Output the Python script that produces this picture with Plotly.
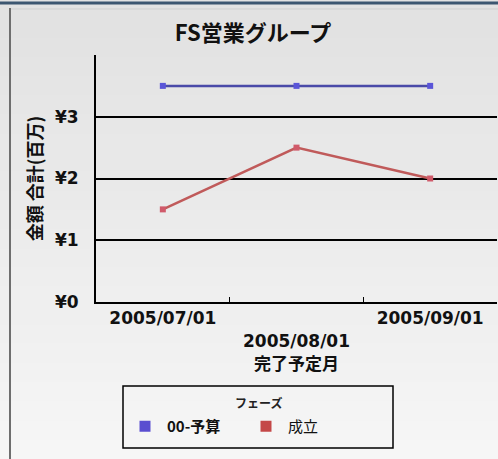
import plotly.graph_objects as go

# ---- data ----
categories = ["2005/07/01", "2005/08/01", "2005/09/01"]
tick_labels = ["2005/07/01", "<br>2005/08/01", "2005/09/01"]
yosan = [3.5, 3.5, 3.5]        # 00-予算
seiritsu = [1.5, 2.5, 2.0]     # 成立
y_ticks = [0, 1, 2, 3]
y_tick_labels = ["¥0", "¥1", "¥2", "¥3"]
series_names = ["<b>00-予算</b>", "成立"]

BLUE_LINE = "#4a4aa8"
BLUE_MARK = "#5a55d8"
RED_LINE = "#c05a5a"
RED_MARK = "#d05a6a"
FONT = "Noto Sans CJK JP"
NUMFONT = "DejaVu Sans"

W, H = 498, 459
L, R, T, B = 96, 1, 55, 157
PW, PH = W - L - R, H - T - B


def px(x):
    return (x - L) / PW


def py(y):
    return (H - B - y) / PH


fig = go.Figure()
fig.add_trace(go.Scatter(x=categories, y=yosan, mode="lines+markers",
                         line=dict(color=BLUE_LINE, width=2.5),
                         marker=dict(symbol="square", size=6, color=BLUE_MARK),
                         showlegend=False))
fig.add_trace(go.Scatter(x=categories, y=seiritsu, mode="lines+markers",
                         line=dict(color=RED_LINE, width=2.5),
                         marker=dict(symbol="square", size=6, color=RED_MARK),
                         showlegend=False))
# legend entries (square swatches)
fig.add_trace(go.Scatter(x=[None], y=[None], mode="markers", name=series_names[0],
                         marker=dict(symbol="square", size=11, color="#5a4ed0")))
fig.add_trace(go.Scatter(x=[None], y=[None], mode="markers", name=series_names[1],
                         marker=dict(symbol="square", size=11, color="#c44848")))

# background gradient bands
shapes = []
n = 24
for i in range(n):
    t = i / (n - 1)
    c = int(0xe2 + (0xf6 - 0xe2) * t)
    y1 = py(0) - i * (py(0) - py(H)) / n
    y0 = py(0) - (i + 1) * (py(0) - py(H)) / n
    shapes.append(dict(type="rect", xref="paper", yref="paper",
                       x0=px(0), x1=px(W), y0=y0 - 0.002, y1=y1 + 0.002,
                       fillcolor=f"rgb({c},{c},{c})", line=dict(width=0), layer="below"))
# frame lines
shapes.append(dict(type="line", xref="paper", yref="paper", x0=px(0), x1=px(W),
                   y0=py(3), y1=py(3), line=dict(color="#3c5670", width=3)))
shapes.append(dict(type="line", xref="paper", yref="paper", x0=px(10), x1=px(W),
                   y0=py(9), y1=py(9), line=dict(color="#cfcfcf", width=1)))
shapes.append(dict(type="line", xref="paper", yref="paper", x0=px(10), x1=px(10),
                   y0=py(H), y1=py(8), line=dict(color="#6e6e6e", width=2)))
# legend box
shapes.append(dict(type="rect", xref="paper", yref="paper", x0=px(123), x1=px(393),
                   y0=py(448), y1=py(386), line=dict(color="#000", width=1.5),
                   fillcolor="rgba(0,0,0,0)"))

fig.update_layout(
    width=W, height=H,
    margin=dict(l=L, r=R, t=T, b=B),
    paper_bgcolor="#ececec",
    plot_bgcolor="rgba(0,0,0,0)",
    shapes=shapes,
    annotations=[dict(text="<b>フェーズ</b>", xref="paper", yref="paper",
                      x=px(258), y=py(402), xanchor="center", yanchor="middle",
                      showarrow=False, font=dict(family=FONT, size=12, color="#222"))],
    title=dict(text="<b>FS営業グループ</b>", x=253 / W, xanchor="center",
               y=1 - 33 / H, yanchor="middle",
               font=dict(family=FONT, size=22, color="#111")),
    xaxis=dict(type="category", range=[-0.5, 2.5], tickson="boundaries",
               tickvals=categories, ticktext=tick_labels, automargin=False,
               ticks="inside", ticklen=5, tickcolor="#000",
               showline=True, linecolor="#000", linewidth=2,
               showgrid=False, zeroline=False,
               tickfont=dict(family=NUMFONT, size=17, color="#111", weight="bold"),
               title=dict(text="<b>完了予定月</b>", standoff=0,
                          font=dict(family=FONT, size=17, color="#111"))),
    yaxis=dict(range=[0, 4], tickvals=y_ticks, ticktext=y_tick_labels, automargin=False,
               showline=True, linecolor="#000", linewidth=2,
               showgrid=True, gridcolor="#000", gridwidth=1.5,
               zeroline=False, ticks="", ticklabelstandoff=12,
               tickfont=dict(family=NUMFONT, size=17, color="#111", weight="bold"),
               title=dict(text="<b>金額 合計(百万)</b>", standoff=8,
                          font=dict(family=FONT, size=18, color="#111"))),
    legend=dict(orientation="h", xref="container", yref="container",
                x=123 / W, y=1 - 410 / H, xanchor="left", yanchor="top",
                bgcolor="rgba(0,0,0,0)", borderwidth=0,
                entrywidth=72, entrywidthmode="pixels", itemwidth=34,
                font=dict(family=FONT, size=15, color="#111")),
)

fig.write_html("out.html", config={"displayModeBar": False},
               post_script="document.body.style.margin='0';document.body.style.padding='0';")
